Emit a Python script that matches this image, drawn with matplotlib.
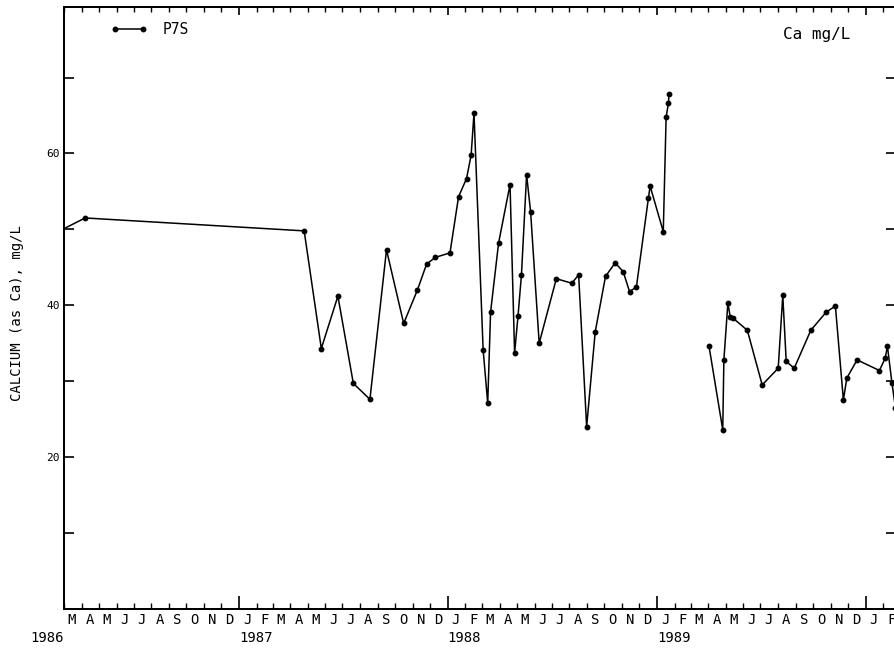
import numpy as np
import pandas as pd
import matplotlib
matplotlib.use("Agg")
import matplotlib.pyplot as plt
import matplotlib.dates as mdates
from matplotlib.ticker import FixedLocator, NullFormatter

# Sampling dates for well P7S and dissolved calcium (mg/L).
# The "1989-03-01" entry has no sample and breaks the line.
sample_dates = [
    "1986-02-16", "1986-04-07", "1987-04-25", "1987-05-25", "1987-06-23",
    "1987-07-20", "1987-08-18", "1987-09-16", "1987-10-16", "1987-11-09",
    "1987-11-25", "1987-12-10", "1988-01-05", "1988-01-20", "1988-02-03",
    "1988-02-11", "1988-02-16", "1988-03-03", "1988-03-11", "1988-03-16",
    "1988-03-30", "1988-04-19", "1988-04-27", "1988-05-03", "1988-05-09",
    "1988-05-18", "1988-05-25", "1988-06-09", "1988-07-09", "1988-08-05",
    "1988-08-17", "1988-08-31", "1988-09-15", "1988-10-03", "1988-10-20",
    "1988-11-03", "1988-11-14", "1988-11-26", "1988-12-17", "1988-12-20",
    "1989-01-12", "1989-01-17", "1989-01-21", "1989-01-22",
    "1989-03-01",
    "1989-04-02", "1989-04-26", "1989-04-28", "1989-05-05", "1989-05-09",
    "1989-05-14", "1989-06-08", "1989-07-04", "1989-08-01", "1989-08-09",
    "1989-08-15", "1989-08-29", "1989-09-27", "1989-10-24", "1989-11-09",
    "1989-11-23", "1989-11-29", "1989-12-17", "1990-01-25", "1990-02-04",
    "1990-02-08", "1990-02-16", "1990-02-22",
]
calcium = [
    49.6, 51.5, 49.8, 34.3, 41.2,
    29.7, 27.6, 47.3, 37.6, 42.0,
    45.4, 46.3, 46.9, 54.3, 56.7,
    59.8, 65.3, 34.1, 27.1, 39.1,
    48.2, 55.9, 33.7, 38.6, 44.0,
    57.2, 52.3, 35.0, 43.5, 42.9,
    44.0, 24.0, 36.5, 43.8, 45.6,
    44.4, 41.8, 42.4, 54.1, 55.7,
    49.7, 64.8, 66.6, 67.8,
    np.nan,
    34.6, 23.6, 32.8, 40.3, 38.5,
    38.3, 36.7, 29.5, 31.7, 41.3,
    32.6, 31.7, 36.7, 39.1, 39.9,
    27.5, 30.4, 32.8, 31.4, 33.0,
    34.6, 29.7, 26.5,
]

month_letters = ["J", "F", "M", "A", "M", "J", "J", "A", "S", "O", "N", "D"]
year_labels = ["1986", "1987", "1988", "1989"]
y_major = [20, 40, 60]
y_minor = [10, 30, 50, 70]

plt.rcParams["font.family"] = ["DejaVu Sans Mono"]

W, H = 894, 651
fig = plt.figure(figsize=(W / 100, H / 100), dpi=100)
ax_bottom_px, ax_top_px = 608.8, 7.0
ax = fig.add_axes([64 / W, (H - ax_bottom_px) / H, 832 / W,
                   (ax_bottom_px - ax_top_px) / H])

dates = pd.to_datetime(sample_dates)
ax.plot(dates, calcium, color="black", lw=1.1, marker="o", ms=3.2,
        mfc="black", mec="black", label="P7S")

x0, x1 = pd.Timestamp("1986-03-01"), pd.Timestamp("1990-02-23")
ax.set_xlim(x0, x1)
ax.set_ylim(0, 79.3)

for side in ax.spines.values():
    side.set_linewidth(1.4)

# bottom axis: month ticks, longer ticks at each new year
ax.xaxis.set_major_locator(mdates.YearLocator())
ax.xaxis.set_minor_locator(mdates.MonthLocator())
ax.xaxis.set_major_formatter(NullFormatter())
ax.xaxis.set_minor_formatter(NullFormatter())
ax.tick_params(axis="x", which="major", direction="in", length=9.4,
               width=1.2, top=False)
ax.tick_params(axis="x", which="minor", direction="in", length=4.3,
               width=1.0, top=False)

# top axis mirrors the month ticks
top = ax.twiny()
top.set_xlim(mdates.date2num(x0), mdates.date2num(x1))
top.xaxis.set_major_locator(mdates.YearLocator())
top.xaxis.set_minor_locator(mdates.MonthLocator())
top.xaxis.set_major_formatter(NullFormatter())
top.xaxis.set_minor_formatter(NullFormatter())
top.tick_params(axis="x", which="major", direction="in", length=5.8, width=1.2)
top.tick_params(axis="x", which="minor", direction="in", length=3.6, width=1.0)
for side in top.spines.values():
    side.set_linewidth(1.4)

# y axis
ax.yaxis.set_major_locator(FixedLocator(y_major))
ax.yaxis.set_minor_locator(FixedLocator(y_minor))
ax.set_yticklabels([str(v) for v in y_major], fontsize=8)
ax.tick_params(axis="y", which="both", direction="in", length=7, width=1.2,
               left=True, right=True, pad=3)

# month letters centred in each month, year under January
xt = ax.get_xaxis_transform()
months = pd.date_range("1986-03-01", "1990-02-01", freq="MS")
for m in months:
    mid = m + pd.Timedelta(days=14)
    ax.text(mid, -0.0186, month_letters[m.month - 1], transform=xt,
            ha="center", va="center", fontsize=10, clip_on=False)
for yl in year_labels:
    ax.text(pd.Timestamp(f"{yl}-01-01"), -0.0485, yl, transform=xt,
            ha="left", va="center", fontsize=10, clip_on=False)

ax.set_ylabel("CALCIUM (as Ca), mg/L", fontsize=10)
ax.yaxis.set_label_coords(-(64 - 24) / 832, (ax_bottom_px - 313) / (ax_bottom_px - ax_top_px))

ax.legend(loc="upper left", bbox_to_anchor=(0.056, 0.975), frameon=False,
          numpoints=2, handlelength=2.5, handletextpad=1.1, borderpad=0,
          borderaxespad=0, fontsize=10.5)

ax.text(0.905, 0.9535, "Ca mg/L", transform=ax.transAxes, ha="center",
        va="center", fontsize=11.5)

fig.savefig("out.png", dpi=100)
